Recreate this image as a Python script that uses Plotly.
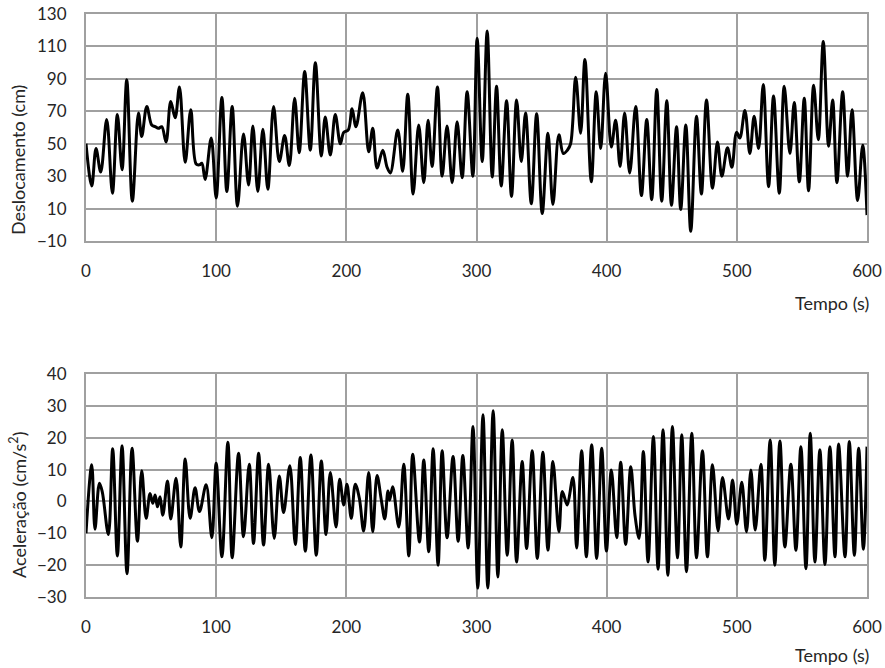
import plotly.graph_objects as go
from plotly.subplots import make_subplots

# Displacement record: time (s) and displacement (cm) at the turning points
disp_t = [0, 4.4, 7.7, 11.3, 15.9, 20.3, 24.1, 27.7, 31.3, 35.6,
          40.3, 42.8, 46.7, 50.5, 53.1, 55.6, 58.2, 61.5, 65.1, 68.5,
          71.8, 76.2, 80.5, 84.6, 87.2, 89, 91.5, 96.2, 100, 104.4,
          108.2, 112.3, 116.4, 121, 124.9, 128.2, 132, 135.9, 139.7, 144.1,
          148.5, 152.6, 156.2, 160.3, 163.8, 168, 172.3, 176.2, 180.8, 183.8,
          187.7, 191.5, 195.4, 198, 201.5, 204.4, 207.4, 212.6, 217.2, 220.3,
          223.6, 228, 231.3, 233.8, 239.5, 243.3, 247.2, 251.3, 255.6, 259.5,
          262.8, 265.9, 270, 273.6, 277.4, 281.3, 285.1, 289, 292.8, 297.2,
          300.5, 304.4, 308.2, 312.1, 315.4, 319, 323.1, 326.9, 330.8, 334.4,
          337.7, 342.1, 346.2, 350.5, 354.9, 358.7, 363.3, 366.7, 369.8, 372.3,
          376.2, 380, 383.3, 388.2, 392, 395.4, 399.2, 403.6, 406.9, 410.3,
          413.8, 417.7, 422.3, 426.7, 430.8, 434.6, 438.5, 442.3, 446.2, 449.8,
          453.7, 456.9, 460.8, 464.6, 469, 472.8, 476.7, 481.3, 485.1, 488.5,
          492.8, 496.2, 499.8, 502.3, 506.2, 510, 513.3, 516.7, 520.3, 524.4,
          528.2, 532.6, 536.4, 540.8, 544.1, 548, 551.8, 555.1, 559, 562.6,
          566.4, 570.5, 573.6, 576.9, 581.3, 585.1, 588.5, 592.8, 596.7, 600]
disp_v = [50, 24, 47, 32.5, 65, 19.5, 68, 34, 89.5, 14.5,
          69, 54.5, 73, 61.5, 60.5, 59.5, 60.5, 51, 76, 66,
          85, 38.5, 71, 37.5, 37, 38, 28, 53.5, 16.5, 78.5,
          20.5, 73, 11.5, 56, 24.5, 61, 20.5, 59, 22, 73,
          39, 55, 36.5, 78, 44.5, 94.5, 46, 100, 42.5, 66.5,
          43, 68, 50, 57, 58.5, 71.5, 60.5, 81.5, 45, 59.5,
          35, 46, 35.5, 32, 58.5, 33, 80.5, 19, 61.5, 26,
          64.5, 36, 85, 30, 61, 26, 63.5, 29, 82, 30,
          115, 39, 119.5, 29.5, 85.5, 24, 76.5, 17.5, 77, 39,
          69, 13, 68.5, 7, 56.5, 12.5, 55.5, 44, 46, 50,
          91, 56.5, 102, 26.5, 82, 47, 93.5, 48, 64.5, 36,
          69, 32, 73, 18, 65, 15.5, 83.5, 14.5, 76.5, 12,
          60.5, 9.5, 61.5, -4, 67, 19, 77, 22.5, 51, 30,
          47.5, 35.5, 57, 53.5, 70.5, 44, 67, 47, 86.5, 23.5,
          79.5, 19.5, 85.5, 44, 75.5, 26.5, 78, 21, 86, 52.5,
          113, 48.5, 77, 26, 82, 30, 71, 15, 49, 6]

# Acceleration record: time (s) and acceleration (cm/s2) at the turning points
acc_t = [0, 4.4, 6.9, 10.3, 12.5, 17.2, 20.5, 24.1, 27.7, 31.5,
         35.4, 39.5, 42.8, 46.2, 49.2, 51.3, 53.1, 54.9, 56.9, 59,
         62.6, 65.1, 69.2, 72.8, 76.2, 80, 83.8, 87.2, 92.3, 96.7,
         100, 104.4, 109, 112.3, 117.2, 121, 125.4, 128.7, 132.6, 136.4,
         140.3, 144.6, 148.5, 151.8, 156.6, 160.8, 164.6, 168.5, 172.8, 176.9,
         180.8, 184.4, 187.7, 192.1, 194.9, 198, 200.5, 203.8, 206.9, 210,
         213.3, 217.2, 220.3, 223.6, 226.9, 229.5, 232, 233.3, 235.6, 240.3,
         244.1, 248, 251, 256.2, 259.5, 263.3, 266.7, 270.5, 273.6, 277.4,
         282, 285.9, 289.5, 293.6, 297.3, 301, 305, 308.7, 312.8, 316.4,
         319.8, 323.6, 327.4, 330.8, 335.1, 338.5, 342.8, 346.7, 351, 354.9,
         358.7, 363.3, 365.9, 368.5, 369.8, 374.1, 376.9, 380.8, 384.4, 388.5,
         392.3, 396.2, 399.8, 403.6, 407.7, 410.8, 414.6, 418.5, 421.8, 424.9,
         428.2, 431.8, 435.9, 439.5, 443.3, 447, 450.5, 454.4, 457.7, 461.3,
         465.4, 469, 473.6, 477.4, 481.3, 485.6, 489, 493.6, 496.7, 500,
         503.8, 507.4, 510.8, 514.1, 518.5, 521.5, 525.6, 529.2, 533.1, 536.9,
         541.5, 545.4, 549.2, 553.1, 556.4, 560, 563.8, 567.7, 571.5, 575.4,
         578.2, 583.1, 586.4, 590.3, 593.6, 597.2, 600]
acc_v = [-10, 11.5, -8.7, 5.7, 3, -10.4, 16.5, -17.1, 17.5, -22.7,
         16.7, -12.5, 9.6, -5.3, 2.5, -0.6, 2, -1.7, 1.5, -4.3,
         6.4, -5.5, 7.3, -14.3, 13.3, -5.3, 4.3, -3.2, 5.2, -11.4,
         12, -17.4, 18.6, -17.7, 15.1, -11.1, 11.7, -13.2, 15.1, -13.7,
         11.7, -11.6, 8, -3.5, 11.2, -13.5, 13.8, -15.6, 14.6, -16.9,
         12.7, -10.4, 9.1, -8, 7, -1.1, 5.4, -5.3, 5.4, 1,
         -9.3, 9.1, -9.5, 8.1, 0.4, -5.5, 3.3, 0.4, 4.6, -8,
         11.7, -17.1, 14.8, -12.7, 13, -15.8, 16.5, -20, 15.9, -11.4,
         14.1, -12.5, 14.4, -14.6, 23.5, -27.2, 27.2, -27.2, 28.5, -23.7,
         22.5, -16.9, 19.3, -19, 12.5, -14.8, 15.9, -17.9, 15.4, -15.3,
         12.5, -9.5, 3.1, 0, -1.1, 7.5, -14.6, 15.9, -17.4, 17.8,
         -17.9, 16.7, -15.6, 9.9, -11.4, 12.3, -13.5, 10.9, -4.5, -11.6,
         15.7, -19, 20.4, -21.3, 22.5, -23.2, 23.5, -17.7, 20.9, -22.1,
         21.4, -17.7, 15.9, -17.4, 11.5, -9.3, 7.5, -5.5, 6.7, -7.2,
         6, -9.5, 9.9, -9, 11.7, -18.5, 19.3, -20, 19, -14.3,
         11.7, -15.3, 17.2, -21.1, 21.4, -19, 16.2, -19.8, 17.2, -17.4,
         18, -17.4, 18.8, -16.9, 16.7, -15, 17.2]

assert len(disp_t) == len(disp_v)
assert len(acc_t) == len(acc_v)

x_ticks = [0, 100, 200, 300, 400, 500, 600]
disp_ticks = [-10, 10, 30, 50, 70, 90, 110, 130]
acc_ticks = [-30, -20, -10, 0, 10, 20, 30, 40]

FONT = "Lato, Carlito, 'Open Sans', sans-serif"
TEXT = "#262626"
GRID = "#a0a0a0"

fig = make_subplots(rows=2, cols=1, vertical_spacing=0.0)

line_style = dict(color="#000000", width=3, shape="spline", smoothing=1.0)
fig.add_trace(go.Scatter(x=disp_t, y=disp_v, mode="lines", line=line_style,
                         showlegend=False, hoverinfo="skip"), row=1, col=1)
fig.add_trace(go.Scatter(x=acc_t, y=acc_v, mode="lines", line=line_style,
                         showlegend=False, hoverinfo="skip"), row=2, col=1)

axis_common = dict(showgrid=True, gridcolor=GRID, gridwidth=2,
                   showline=True, linecolor=GRID, linewidth=2, mirror=True,
                   zeroline=False, ticks="", automargin=False,
                   tickfont=dict(family=FONT, size=17, color=TEXT))

fig.update_xaxes(**axis_common, range=[0, 600], tickvals=x_ticks,
                 ticklabelstandoff=14)
fig.update_yaxes(**axis_common, ticklabelstandoff=14)
fig.update_yaxes(range=[-10, 130], tickvals=disp_ticks, row=1, col=1)
fig.update_yaxes(range=[-30, 40], tickvals=acc_ticks, row=2, col=1)

# Paper-space layout of the two panels
fig.update_layout(
    width=885, height=668,
    margin=dict(l=86, r=18, t=14, b=71),
    paper_bgcolor="white", plot_bgcolor="white",
    xaxis=dict(domain=[0, 1]),
    yaxis=dict(domain=[0.6106, 1.0]),
    xaxis2=dict(domain=[0, 1]),
    yaxis2=dict(domain=[0.0, 0.3825]),
    font=dict(family=FONT, color=TEXT),
)

ann_font = dict(family=FONT, size=18, color=TEXT)
fig.add_annotation(text="Deslocamento (cm)", textangle=-90, showarrow=False,
                   xref="paper", yref="paper", x=-0.087, y=0.7496,
                   xanchor="center", yanchor="middle", font=ann_font)
fig.add_annotation(text="Aceleração (cm/s<sup>2</sup>)", textangle=-90, showarrow=False,
                   xref="paper", yref="paper", x=-0.087, y=0.158,
                   xanchor="center", yanchor="middle", font=ann_font)
fig.add_annotation(text="Tempo (s)", showarrow=False,
                   xref="paper", yref="paper", x=0.955, y=0.504,
                   xanchor="center", yanchor="middle", font=ann_font)
fig.add_annotation(text="Tempo (s)", showarrow=False,
                   xref="paper", yref="paper", x=0.955, y=-0.0995,
                   xanchor="center", yanchor="middle", font=ann_font)

fig.write_html("out.html")
